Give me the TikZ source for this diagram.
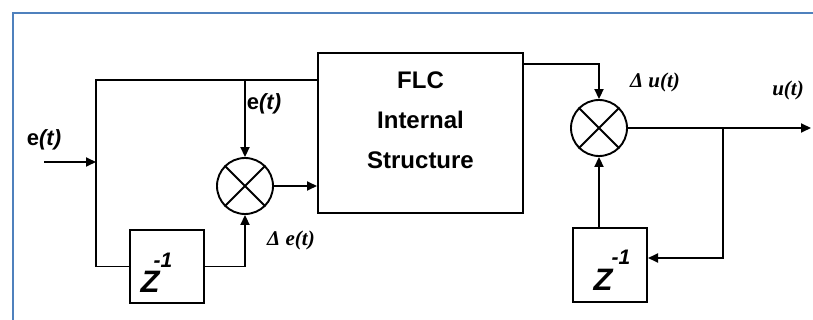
\documentclass[tikz,border=0pt]{standalone}
\usepackage{fontspec}
\setmainfont{Liberation Serif}
\setsansfont{Liberation Sans}
\usetikzlibrary{arrows.meta}
\definecolor{frameblue}{RGB}{79,129,189}
\begin{document}
\begin{tikzpicture}[x=1pt,y=-1pt,line width=1.9pt,
  arr/.style={-{Triangle[length=10pt,width=9pt]}},
  blk/.style={draw,line width=2pt,inner sep=0pt},
  mix/.style={draw,circle,minimum size=56pt,inner sep=0pt,line width=1.9pt},
  sflab/.style={font=\sffamily\bfseries\fontsize{22}{22}\selectfont,inner sep=0pt},
  serlab/.style={font=\rmfamily\bfseries\itshape\fontsize{21}{21}\selectfont,inner sep=0pt},
  zlab/.style={font=\sffamily\bfseries\itshape\fontsize{31}{31}\selectfont,inner sep=0pt,anchor=base},
  elab/.style={font=\sffamily\bfseries\itshape\fontsize{21}{21}\selectfont,inner sep=0pt,anchor=base}]
\useasboundingbox (0,0) rectangle (813,320);
\draw[frameblue,line width=2pt] (813,13.5) -- (12.5,13.5) -- (12.5,320);

% blocks
\node[blk,minimum width=205pt,minimum height=160pt] (flc) at (420.5,133) {};
\node[font=\sffamily\bfseries\fontsize{24}{40}\selectfont,align=center,inner sep=0pt] (flct) at (420.5,120) {FLC\\Internal\\Structure};
\node[blk,minimum width=74pt,minimum height=73pt] (d1) at (167,266.5) {};
\node[blk,minimum width=74pt,minimum height=74pt] (d2) at (610,265) {};
\node[zlab] (z1) at (150,292) {Z};
\node[elab] (z1e) at (163,267) {-1};
\node[zlab] (z2) at (603,290) {Z};
\node[elab] (z2e) at (621,265) {-1};

% mixers
\node[mix] (m1) at (245,186) {};
\draw (m1.45) -- (m1.225) (m1.135) -- (m1.315);
\node[mix] (m2) at (599,128) {};
\draw (m2.45) -- (m2.225) (m2.135) -- (m2.315);

% coordinates
\coordinate (in) at (44,162);
\coordinate (jin) at (96,162);
\coordinate (tl) at (96,80);
\coordinate (bl) at (96,266.5);
\coordinate (tap) at (245,80);
\coordinate (fo) at (523,64);
\coordinate (out) at (811,128);
\coordinate (br) at (723,128);
\coordinate (bk) at (723,258);

% connectors
\draw[arr] (in) -- (jin);
\draw (bl) -- (tl) -- (tl -| flc.west);
\draw[arr] (tap) -- (m1.north);
\draw (bl) -- (d1.west);
\draw[arr] (d1.east) -| (m1.south);
\draw[arr] (m1.east) -- (m1.east -| flc.west);
\draw[arr] (fo) -| (m2.north);
\draw[arr] (m2.east) -- (out);
\draw[arr] (br) -- (bk) -- (bk -| d2.east);
\draw[arr] (m2.south |- d2.north) -- (m2.south);

% labels
\node[sflab] (le1) at (44,140) {e\textit{(t)}};
\node[sflab] (le2) at (264,104) {e\textit{(t)}};
\node[serlab] (lde) at (291,240) {Δ e(t)};
\node[serlab] (ldu) at (655,82) {Δ u(t)};
\node[serlab] (lu) at (788,90) {u(t)};
\end{tikzpicture}
\end{document}
